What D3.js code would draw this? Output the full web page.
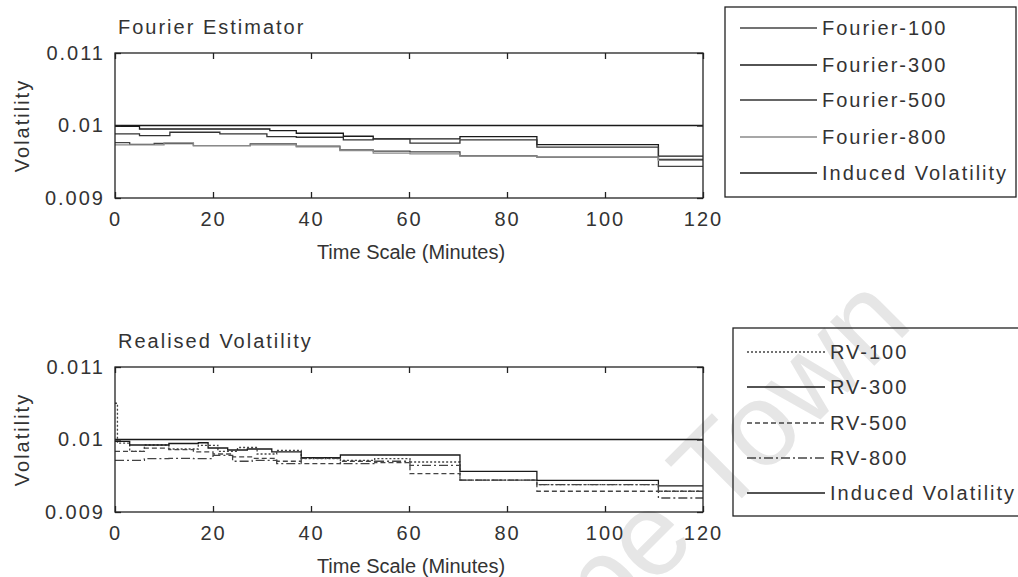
<!DOCTYPE html>
<meta charset="utf-8">
<style>
body{margin:0;background:#fff;}
svg text{font-family:"Liberation Sans",Arial,sans-serif;font-size:20px;letter-spacing:2px;fill:#333;}
.frame{fill:none;stroke:#222;stroke-width:1.3;}
.axis path{display:none;}
.axis line{stroke:#222;stroke-width:1.3;}
.series{fill:none;stroke-width:1.3;}
</style>
<svg width="1018" height="577"></svg>
<script src="https://cdn.jsdelivr.net/npm/d3@7"></script>
<script>

// ---- data ----
var timeTicks = [0, 20, 40, 60, 80, 100, 120];
var volTicks = [0.009, 0.01, 0.011];
var volTickLabels = ["0.009", "0.01", "0.011"];
var inducedVol = 0.01;

// [minute, volatility] step points
var fourier100 = [[0,0.009763],[3,0.00974],[8,0.009752],[16,0.009723],[27.6,0.009747],[37,0.009715],[45.9,0.009664],[52.7,0.009647],[60.2,0.009637],[70.4,0.009582],[86.1,0.009564],[110.9,0.009436]];
var fourier300 = [[0,0.009987],[5,0.009952],[31.6,0.009929],[37,0.009893],[46.6,0.009852],[52.7,0.009815],[70.4,0.009847],[86.1,0.009737],[110.9,0.009578]];
var fourier500 = [[0,0.009884],[5,0.009861],[11.2,0.009907],[21.4,0.009884],[31,0.009847],[37,0.009838],[46.6,0.009801],[52.7,0.009815],[60.2,0.009756],[70.4,0.009801],[86.1,0.009701],[110.9,0.009532]];
var fourier800 = [[0,0.009733],[10,0.00976],[16,0.009723],[27.6,0.009733],[37,0.009705],[45.9,0.009655],[52.7,0.009619],[60.2,0.00961],[70.4,0.009578],[86.1,0.009564],[110.9,0.00952]];

var rv100 = [[0,0.0105],[0.5,0.00995],[3,0.009837],[6,0.009924],[11,0.009869],[17,0.00992],[21,0.009837],[25,0.00989],[29,0.0098],[33,0.00985],[38,0.009735],[46,0.009713],[53,0.009735],[60.2,0.00969],[70.4,0.009441],[86.1,0.009377],[110.9,0.009286]];
var rv300 = [[0,0.009975],[3,0.009924],[11,0.009945],[17,0.009955],[19,0.009883],[23,0.009855],[27,0.009869],[32,0.009828],[38,0.009749],[46,0.009786],[60.2,0.009786],[70.4,0.009561],[86.1,0.009437],[110.9,0.009359]];
var rv500 = [[0,0.009837],[6,0.00988],[11,0.00986],[16,0.00983],[20,0.0098],[24,0.00976],[28,0.00974],[33,0.0097],[38,0.009666],[46,0.0097],[53,0.00968],[60.2,0.009528],[70.4,0.009441],[86.1,0.009286],[110.9,0.009286]];
var rv800 = [[0,0.009713],[6,0.009735],[11,0.00974],[16,0.009735],[20,0.00978],[24,0.0097],[28,0.009713],[33,0.009666],[38,0.00974],[46,0.009666],[53,0.0097],[60.2,0.009644],[70.4,0.009441],[86.1,0.009377],[110.9,0.009193]];

var fourierNames = ["Fourier-100", "Fourier-300", "Fourier-500", "Fourier-800", "Induced Volatility"];
var rvNames = ["RV-100", "RV-300", "RV-500", "RV-800", "Induced Volatility"];

var svg = d3.select("svg");

// faint scan watermark (runs off the bottom edge, as in the scan)
svg.append("text")
    .attr("transform", "translate(499,741) rotate(-45)")
    .style("font-size", "118px")
    .style("letter-spacing", "0px")
    .style("fill", "#e6e6e6")
    .text("Cape Town");

function panel(top, bottom, title, series, styles, names, legendBox, legendRows, legendLine) {
  var x = d3.scaleLinear().domain([0, 120]).range([115, 703]);
  var y = d3.scaleLinear().domain([0.009, 0.011]).range([bottom, top]);
  var g = svg.append("g");

  var line = d3.line()
      .x(function(d){ return x(d[0]); })
      .y(function(d){ return y(d[1]); })
      .curve(d3.curveStepAfter);

  // series + induced volatility reference line
  var all = series.concat([[[0, inducedVol]]]);
  all.forEach(function(s, i){
    var pts = s.concat([[120, s[s.length-1][1]]]);
    g.append("path").attr("class","series")
      .attr("d", line(pts))
      .style("stroke", styles[i].c)
      .style("stroke-dasharray", styles[i].d);
  });

  g.append("rect").attr("class","frame")
    .attr("x", x(0)).attr("y", y(0.011))
    .attr("width", x(120)-x(0)).attr("height", y(0.009)-y(0.011));

  g.append("g").attr("class","axis")
    .attr("transform","translate(0,"+bottom+")")
    .call(d3.axisBottom(x).tickValues(timeTicks).tickSizeInner(-6).tickSizeOuter(0).tickPadding(14));
  g.append("g").attr("class","axis")
    .attr("transform","translate(0,"+top+")")
    .call(d3.axisTop(x).tickValues(timeTicks).tickSizeInner(-6).tickSizeOuter(0).tickFormat(""));
  g.append("g").attr("class","axis")
    .attr("transform","translate(115,0)")
    .call(d3.axisLeft(y).tickValues(volTicks).tickSizeInner(-6).tickSizeOuter(0).tickPadding(10)
      .tickFormat(function(d,i){ return volTickLabels[i]; }));
  g.append("g").attr("class","axis")
    .attr("transform","translate(703,0)")
    .call(d3.axisRight(y).tickValues(volTicks).tickSizeInner(-6).tickSizeOuter(0).tickFormat(""));
  g.selectAll(".axis text").style("font-size","20px").style("font-family",null).attr("fill",null);

  g.append("text").attr("x", 118).attr("y", top - 19).text(title);
  g.append("text").attr("x", 411).attr("y", bottom + 61).attr("text-anchor","middle")
    .style("letter-spacing","0px").text("Time Scale (Minutes)");
  g.append("text")
    .attr("transform","translate(29,"+((top+bottom)/2)+") rotate(-90)")
    .attr("text-anchor","middle").text("Volatility");

  // legend
  g.append("rect").attr("class","frame")
    .attr("x", legendBox[0]).attr("y", legendBox[1])
    .attr("width", legendBox[2]).attr("height", legendBox[3]);
  names.forEach(function(n, i){
    g.append("line")
      .attr("x1", legendLine[0]).attr("x2", legendLine[1])
      .attr("y1", legendRows[i]).attr("y2", legendRows[i])
      .style("stroke", styles[i].c).style("stroke-width", 1.3)
      .style("stroke-dasharray", styles[i].d);
    g.append("text").attr("x", legendLine[1] + 5).attr("y", legendRows[i]).attr("dy","0.35em").text(n);
  });
}

panel(53, 198, "Fourier Estimator",
  [fourier100, fourier300, fourier500, fourier800],
  [{c:"#444",d:null},{c:"#1a1a1a",d:null},{c:"#333",d:null},{c:"#8a8a8a",d:null},{c:"#1a1a1a",d:null}],
  fourierNames, [725, 7, 291, 190], [28, 65, 100, 137, 173], [740, 817]);

panel(367, 512, "Realised Volatility",
  [rv100, rv300, rv500, rv800],
  [{c:"#444",d:"2,2"},{c:"#1a1a1a",d:null},{c:"#444",d:"5,3"},{c:"#444",d:"9,3,2,3"},{c:"#1a1a1a",d:null}],
  rvNames, [733, 328, 300, 188], [352, 387, 423, 458, 493], [747, 825]);

</script>
